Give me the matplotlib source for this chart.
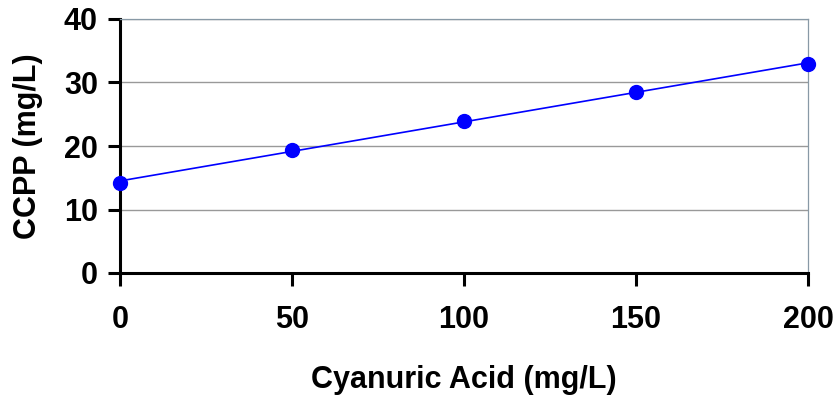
import numpy as np
import matplotlib.pyplot as plt

# CCPP vs cyanuric acid
cya = [0, 50, 100, 150, 200]
ccpp = [14.2, 19.4, 24.0, 28.5, 32.9]

plt.rcParams.update({
    "font.family": ["Liberation Sans", "DejaVu Sans"],
    "font.weight": "bold",
})

fig = plt.figure(figsize=(8.39, 4.04), dpi=100)
ax = fig.add_axes([120 / 839, 1 - 273 / 404, 688 / 839, 254 / 404])

# linear trendline through the points
k, b = np.polyfit(cya, ccpp, 1)
xs = np.array([cya[0], cya[-1]])
ax.plot(xs, k * xs + b, color="#0000ff", lw=1.2, zorder=3, clip_on=False)
ax.plot(cya, ccpp, "o", color="#0000ff", ms=10, zorder=4, clip_on=False)

ax.set_xlim(0, 200)
ax.set_ylim(0, 40)
ax.set_xticks([0, 50, 100, 150, 200])
ax.set_yticks([0, 10, 20, 30, 40])
ax.yaxis.grid(True, color="#999999", lw=1.0)
ax.set_axisbelow(True)

for s in ("left", "bottom"):
    ax.spines[s].set_linewidth(2.2)
    ax.spines[s].set_color("black")
for s in ("top", "right"):
    ax.spines[s].set_linewidth(0.9)
    ax.spines[s].set_color("#8899a6")

ax.tick_params(axis="both", direction="out", length=9, width=2.2,
               labelsize=22, color="black")
ax.tick_params(axis="x", pad=14)
ax.tick_params(axis="y", pad=7)
for t in ax.get_xticklabels() + ax.get_yticklabels():
    t.set_fontweight("bold")

ax.set_xlabel("Cyanuric Acid (mg/L)", fontsize=22, fontweight="bold", va="center")
ax.set_ylabel("CCPP (mg/L)", fontsize=22, fontweight="bold", va="center")
ax.xaxis.set_label_coords(0.5, (273 - 380) / 254)
ax.yaxis.set_label_coords((28 - 120) / 688, 0.5)

fig.savefig("out.png", dpi=100)
